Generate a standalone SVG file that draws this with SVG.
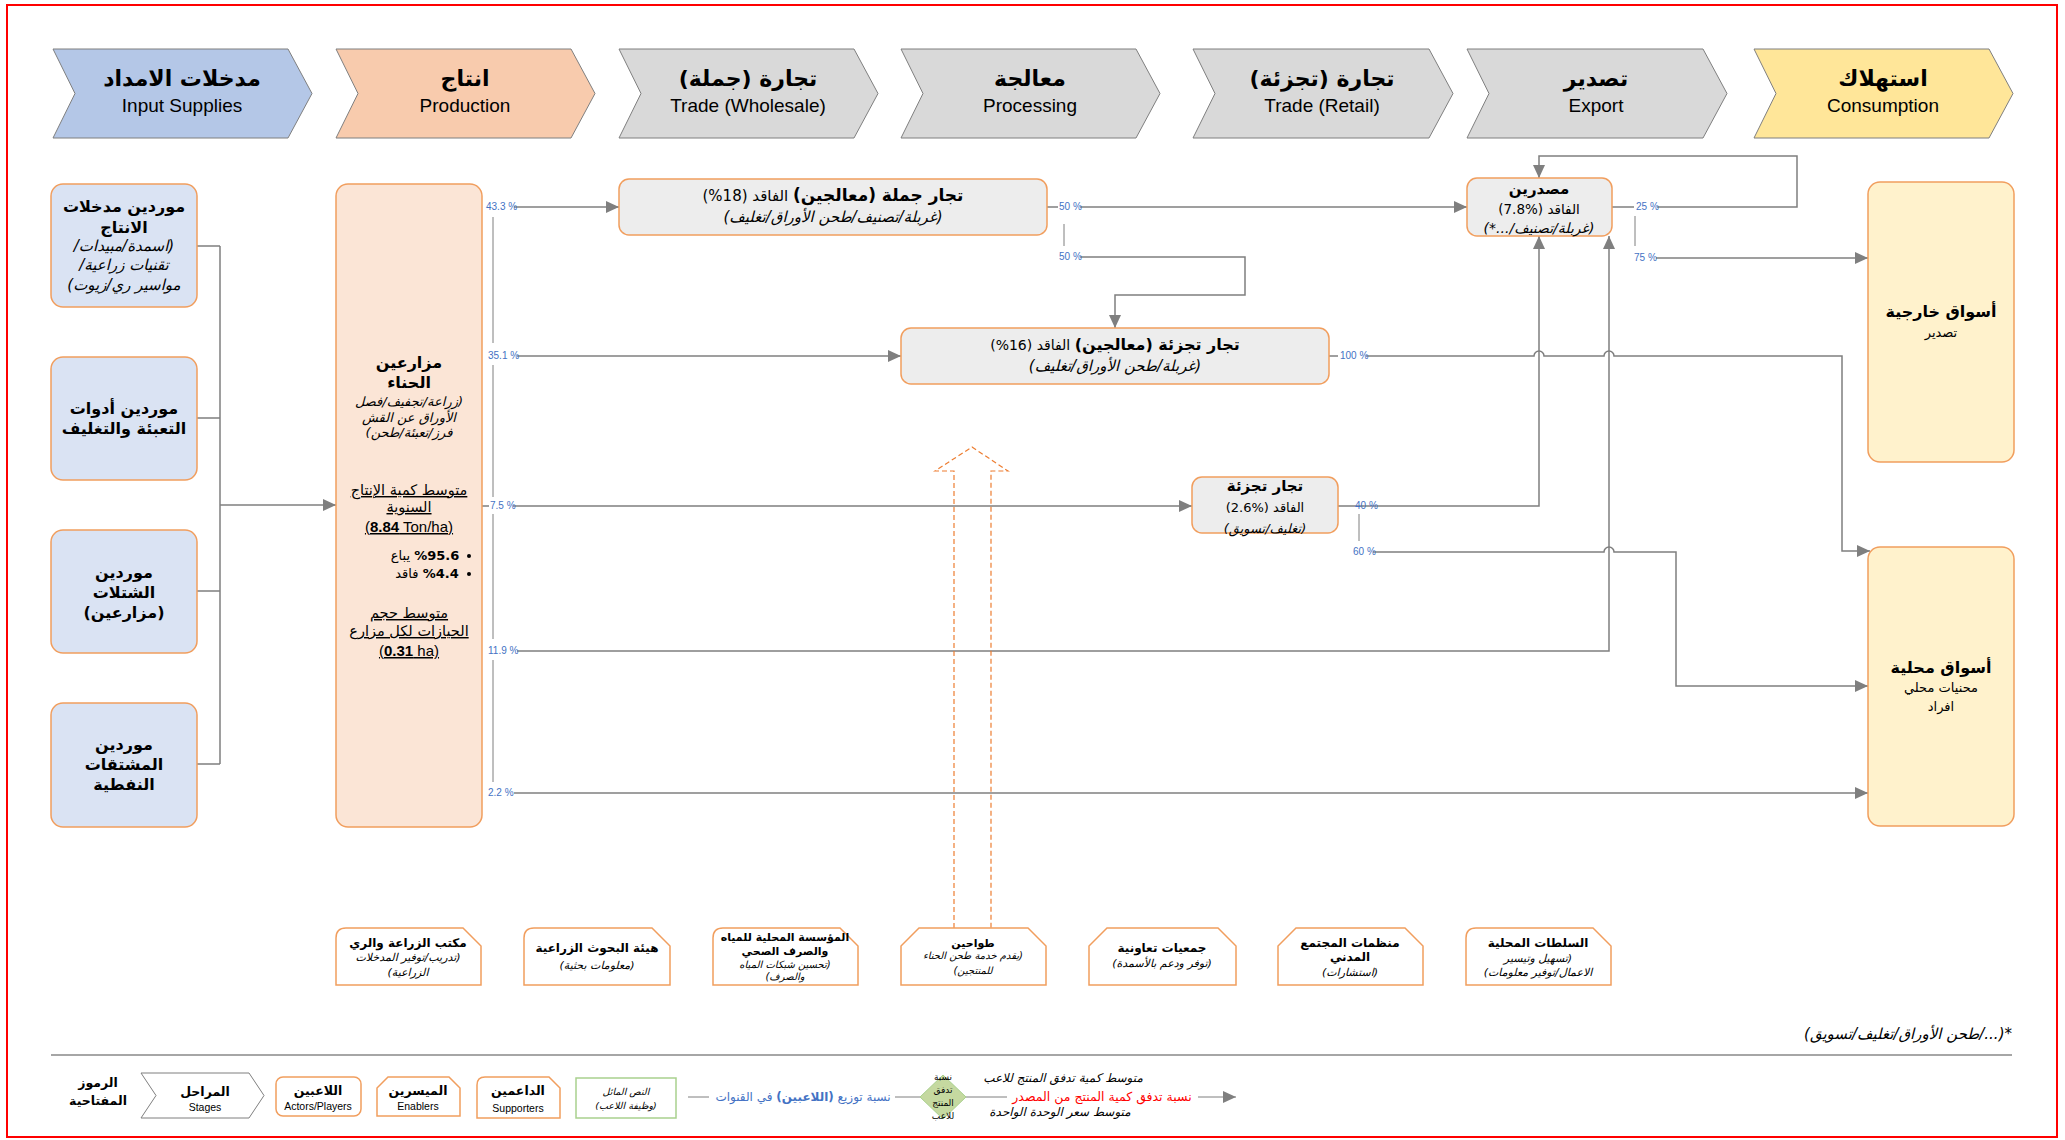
<svg xmlns="http://www.w3.org/2000/svg" width="2065" height="1140" viewBox="0 0 2065 1140">
<style>
.ar{font-family:"DejaVu Sans","Noto Sans",sans-serif;direction:rtl}
.en{font-family:"Liberation Sans",Arial,sans-serif}
.b{font-weight:bold}
.i{font-style:italic}
.stage{stroke:#7F7F7F;stroke-width:1}
.sup{fill:#DAE3F3;stroke:#F19E5E;stroke-width:1.5}
.act{fill:#EDEDED;stroke:#F19E5E;stroke-width:1.5}
.mkt{fill:#FFF2CC;stroke:#F19E5E;stroke-width:1.5}
.spt{fill:#FFFFFF;stroke:#F19E5E;stroke-width:1.5}
.pct{font-family:"Liberation Sans",Arial,sans-serif;font-size:10px;fill:#4472C4}
.fl{fill:none;stroke:#7F7F7F;stroke-width:1.5}
.thin{fill:none;stroke:#7F7F7F;stroke-width:1}
</style>
<defs>
<marker id="ah" markerUnits="userSpaceOnUse" markerWidth="14" markerHeight="12" refX="13" refY="6" orient="auto">
<path d="M0,0 L13,6 L0,12 z" fill="#7F7F7F"/>
</marker>
</defs>
<rect x="7" y="5" width="2050" height="1132" fill="#FFFFFF" stroke="#FF0000" stroke-width="2"/>

<!-- Stages -->
<g id="stage-input">
<polygon class="stage" fill="#B4C7E7" points="53,49 288,49 312,93.5 288,138 53,138 75,93.5"/>
<text class="ar b" x="182" y="86" font-size="22" text-anchor="middle">مدخلات الامداد</text>
<text class="en" x="182" y="112" font-size="19" text-anchor="middle">Input Supplies</text>
</g>
<g id="stage-production">
<polygon class="stage" fill="#F8CBAD" points="336,49 571,49 595,93.5 571,138 336,138 358,93.5"/>
<text class="ar b" x="465" y="86" font-size="22" text-anchor="middle">انتاج</text>
<text class="en" x="465" y="112" font-size="19" text-anchor="middle">Production</text>
</g>
<g id="stage-wholesale">
<polygon class="stage" fill="#D9D9D9" points="619,49 854,49 878,93.5 854,138 619,138 641,93.5"/>
<text class="ar b" x="748" y="86" font-size="22" text-anchor="middle">تجارة (جملة)</text>
<text class="en" x="748" y="112" font-size="19" text-anchor="middle">Trade (Wholesale)</text>
</g>
<g id="stage-processing">
<polygon class="stage" fill="#D9D9D9" points="901,49 1136,49 1160,93.5 1136,138 901,138 923,93.5"/>
<text class="ar b" x="1030" y="86" font-size="22" text-anchor="middle">معالجة</text>
<text class="en" x="1030" y="112" font-size="19" text-anchor="middle">Processing</text>
</g>
<g id="stage-retail">
<polygon class="stage" fill="#D9D9D9" points="1193,49 1429,49 1453,93.5 1429,138 1193,138 1215,93.5"/>
<text class="ar b" x="1322" y="86" font-size="22" text-anchor="middle">تجارة (تجزئة)</text>
<text class="en" x="1322" y="112" font-size="19" text-anchor="middle">Trade (Retail)</text>
</g>
<g id="stage-export">
<polygon class="stage" fill="#D9D9D9" points="1467,49 1703,49 1727,93.5 1703,138 1467,138 1489,93.5"/>
<text class="ar b" x="1596" y="86" font-size="22" text-anchor="middle">تصدير</text>
<text class="en" x="1596" y="112" font-size="19" text-anchor="middle">Export</text>
</g>
<g id="stage-consumption">
<polygon class="stage" fill="#FFE699" points="1754,49 1989,49 2013,93.5 1989,138 1754,138 1776,93.5"/>
<text class="ar b" x="1883" y="86" font-size="22" text-anchor="middle">استهلاك</text>
<text class="en" x="1883" y="112" font-size="19" text-anchor="middle">Consumption</text>
</g>

<!-- Connectors -->
<g id="connectors">
<path class="fl" d="M197,246 H220 M197,418 H220 M197,591 H220 M197,764 H220 M220,246 V764"/>
<path class="fl" d="M220,505 H336" marker-end="url(#ah)"/>
<path class="thin" d="M493,217 V343 M493,365 V497 M493,514 V639 M493,660 V782 M1064,224 V246 M1359,514 V541 M1635,216 V246"/>
<path class="fl" d="M514,207 H619" marker-end="url(#ah)"/>
<path class="fl" d="M517,356 H901" marker-end="url(#ah)"/>
<path class="fl" d="M482,506 H489 M513,506 H1192" marker-end="url(#ah)"/>
<path class="fl" d="M517,651 H1609 V236" marker-end="url(#ah)"/>
<path class="fl" d="M514,793 H1868" marker-end="url(#ah)"/>
<path class="fl" d="M1047,207 H1058"/>
<path class="fl" d="M1080,207 H1467" marker-end="url(#ah)"/>
<path class="fl" d="M1080,257 H1245 V295 H1115 V328" marker-end="url(#ah)"/>
<path class="fl" d="M1329,356 H1338"/>
<path class="fl" d="M1366,356 H1534 A5,5 0 0 1 1544,356 H1604 A5,5 0 0 1 1614,356 H1842 V551 H1870" marker-end="url(#ah)"/>
<path class="fl" d="M1338,506 H1539 V236" marker-end="url(#ah)"/>
<path class="fl" d="M1373,552 H1604 A5,5 0 0 1 1614,552 H1676 V686 H1868" marker-end="url(#ah)"/>
<path class="fl" d="M1612,207 H1634"/>
<path class="fl" d="M1657,207 H1797 V156 H1539 V178" marker-end="url(#ah)"/>
<path class="fl" d="M1656,258 H1868" marker-end="url(#ah)"/>
<path d="M954,928 V471 H935 L972,447 L1008,471 H991 V928" fill="none" stroke="#ED7D31" stroke-width="1.2" stroke-dasharray="5,3"/>
<text class="pct" x="486" y="210">43.3 %</text>
<text class="pct" x="488" y="359">35.1 %</text>
<text class="pct" x="490" y="509">7.5 %</text>
<text class="pct" x="488" y="654">11.9 %</text>
<text class="pct" x="488" y="796">2.2 %</text>
<text class="pct" x="1059" y="210">50 %</text>
<text class="pct" x="1059" y="260">50 %</text>
<text class="pct" x="1340" y="359">100 %</text>
<text class="pct" x="1355" y="509">40 %</text>
<text class="pct" x="1353" y="555">60 %</text>
<text class="pct" x="1636" y="210">25 %</text>
<text class="pct" x="1634" y="261">75 %</text>
</g>

<!-- Input suppliers -->
<g id="sup-inputs">
<rect class="sup" x="51" y="184" width="146" height="123" rx="12"/>
<text class="ar b" x="124" y="212" font-size="16" text-anchor="middle">موردين مدخلات</text>
<text class="ar b" x="124" y="233" font-size="16" text-anchor="middle">الانتاج</text>
<text class="ar i" x="124" y="251" font-size="15" text-anchor="middle">(اسمدة/مبيدات/</text>
<text class="ar i" x="124" y="270" font-size="15" text-anchor="middle">تقنيات زراعية/</text>
<text class="ar i" x="124" y="290" font-size="15" text-anchor="middle">مواسير ري/زيوت)</text>
</g>
<g id="sup-packaging">
<rect class="sup" x="51" y="357" width="146" height="123" rx="12"/>
<text class="ar b" x="124" y="414" font-size="16" text-anchor="middle">موردين أدوات</text>
<text class="ar b" x="124" y="434" font-size="16" text-anchor="middle">التعبئة والتغليف</text>
</g>
<g id="sup-seedlings">
<rect class="sup" x="51" y="530" width="146" height="123" rx="12"/>
<text class="ar b" x="124" y="578" font-size="16" text-anchor="middle">موردين</text>
<text class="ar b" x="124" y="598" font-size="16" text-anchor="middle">الشتلات</text>
<text class="ar b" x="124" y="618" font-size="16" text-anchor="middle">(مزارعين)</text>
</g>
<g id="sup-oil">
<rect class="sup" x="51" y="703" width="146" height="124" rx="12"/>
<text class="ar b" x="124" y="750" font-size="16" text-anchor="middle">موردين</text>
<text class="ar b" x="124" y="770" font-size="16" text-anchor="middle">المشتقات</text>
<text class="ar b" x="124" y="790" font-size="16" text-anchor="middle">النفطية</text>
</g>

<!-- Farmers -->
<g id="farmers">
<rect x="336" y="184" width="146" height="643" rx="12" fill="#FBE5D6" stroke="#F19E5E" stroke-width="1.5"/>
<text class="ar b" x="409" y="368" font-size="16" text-anchor="middle">مزارعين</text>
<text class="ar b" x="409" y="388" font-size="16" text-anchor="middle">الحناء</text>
<text class="ar i" x="409" y="406" font-size="13" text-anchor="middle">(زراعة/تجفيف/فصل</text>
<text class="ar i" x="409" y="422" font-size="13" text-anchor="middle">الأوراق عن القش</text>
<text class="ar i" x="409" y="437" font-size="13" text-anchor="middle">فرز/تعبئة/طحن)</text>
<text class="ar" x="409" y="495" font-size="14.5" text-anchor="middle" text-decoration="underline">متوسط كمية الإنتاج</text>
<text class="ar" x="409" y="512" font-size="14.5" text-anchor="middle" text-decoration="underline">السنوية</text>
<text class="en" x="409" y="532" font-size="15" text-anchor="middle" text-decoration="underline">(<tspan font-weight="bold">8.84</tspan> Ton/ha)</text>
<circle cx="469" cy="556" r="2" fill="#000"/>
<circle cx="469" cy="574" r="2" fill="#000"/>
<text class="ar" x="425" y="560" font-size="13" text-anchor="middle"><tspan font-weight="bold">%95.6</tspan> يباع</text>
<text class="ar" x="427" y="578" font-size="13" text-anchor="middle"><tspan font-weight="bold">%4.4</tspan> فاقد</text>
<text class="ar" x="409" y="618" font-size="14.5" text-anchor="middle" text-decoration="underline">متوسط حجم</text>
<text class="ar" x="409" y="636" font-size="14.5" text-anchor="middle" text-decoration="underline">الحيازات لكل مزارع</text>
<text class="en" x="409" y="656" font-size="15" text-anchor="middle" text-decoration="underline">(<tspan font-weight="bold">0.31</tspan> ha)</text>
</g>

<!-- Actors -->
<g id="wholesalers">
<rect class="act" x="619" y="179" width="428" height="56" rx="10"/>
<text class="ar" x="833" y="201" font-size="15" text-anchor="middle"><tspan font-weight="bold" font-size="17">تجار جملة (معالجين)</tspan> الفاقد (18%)</text>
<text class="ar i" x="833" y="222" font-size="15" text-anchor="middle">(غربلة/تصنيف/طحن الأوراق/تغليف)</text>
</g>
<g id="retail-processors">
<rect class="act" x="901" y="328" width="428" height="56" rx="10"/>
<text class="ar" x="1115" y="350" font-size="14" text-anchor="middle"><tspan font-weight="bold" font-size="16">تجار تجزئة (معالجين)</tspan> الفاقد (16%)</text>
<text class="ar i" x="1115" y="371" font-size="15" text-anchor="middle">(غربلة/طحن الأوراق/تغليف)</text>
</g>
<g id="retailers">
<rect class="act" x="1192" y="477" width="146" height="56" rx="10"/>
<text class="ar b" x="1265" y="491" font-size="15" text-anchor="middle">تجار تجزئة</text>
<text class="ar" x="1265" y="512" font-size="13" text-anchor="middle">الفاقد (%2.6)</text>
<text class="ar i" x="1265" y="533" font-size="13" text-anchor="middle">(تغليف/تسويق)</text>
</g>
<g id="exporters">
<rect class="act" x="1467" y="178" width="145" height="58" rx="10"/>
<text class="ar b" x="1539" y="194" font-size="15" text-anchor="middle">مصدرين</text>
<text class="ar" x="1539" y="214" font-size="13.5" text-anchor="middle">الفاقد (%7.8)</text>
<text class="ar i" x="1539" y="233" font-size="14" text-anchor="middle">(غربلة/تصنيف/...*)</text>
</g>

<!-- Markets -->
<g id="foreign-markets">
<rect class="mkt" x="1868" y="182" width="146" height="280" rx="12"/>
<text class="ar b" x="1941" y="317" font-size="16" text-anchor="middle">أسواق خارجية</text>
<text class="ar" x="1941" y="337" font-size="13" text-anchor="middle">تصدير</text>
</g>
<g id="local-markets">
<rect class="mkt" x="1868" y="547" width="146" height="279" rx="12"/>
<text class="ar b" x="1941" y="673" font-size="16" text-anchor="middle">أسواق محلية</text>
<text class="ar" x="1941" y="692" font-size="13" text-anchor="middle">محنيات محلي</text>
<text class="ar" x="1941" y="711" font-size="13" text-anchor="middle">افراد</text>
</g>

<!-- Supporters -->
<g id="agri-office">
<path class="spt" d="M336,985 V938 Q336,928 346,928 H463 L481,946 V985 Z"/>
<text class="ar b" x="408" y="947" font-size="12" text-anchor="middle">مكتب الزراعة والري</text>
<text class="ar i" x="408" y="961" font-size="11" text-anchor="middle">(تدريب/توفير المدخلات</text>
<text class="ar i" x="408" y="976" font-size="11" text-anchor="middle">الزراعية)</text>
</g>
<g id="research">
<path class="spt" d="M524,985 V938 Q524,928 534,928 H652 L670,946 V985 Z"/>
<text class="ar b" x="597" y="952" font-size="12" text-anchor="middle">هيئة البحوث الزراعية</text>
<text class="ar i" x="597" y="969" font-size="11" text-anchor="middle">(معلومات بحثية)</text>
</g>
<g id="water">
<path class="spt" d="M713,985 V938 Q713,928 723,928 H840 L858,946 V985 Z"/>
<text class="ar b" x="785" y="941" font-size="11" text-anchor="middle">المؤسسة المحلية للمياه</text>
<text class="ar b" x="785" y="955" font-size="11" text-anchor="middle">والصرف الصحي</text>
<text class="ar i" x="785" y="968" font-size="10" text-anchor="middle">(تحسين شبكات المياه</text>
<text class="ar i" x="785" y="980" font-size="10" text-anchor="middle">والصرف)</text>
</g>
<g id="mills">
<path class="spt" d="M901,985 V946 L919,928 H1028 L1046,946 V985 Z"/>
<text class="ar b" x="973" y="947" font-size="11" text-anchor="middle">طواحين</text>
<text class="ar i" x="973" y="959" font-size="10" text-anchor="middle">(يقدم خدمة طحن الحناء</text>
<text class="ar i" x="973" y="974" font-size="10" text-anchor="middle">للمنتجين)</text>
</g>
<g id="cooperatives">
<path class="spt" d="M1089,985 V946 L1107,928 H1218 L1236,946 V985 Z"/>
<text class="ar b" x="1162" y="952" font-size="12" text-anchor="middle">جمعيات تعاونية</text>
<text class="ar i" x="1162" y="967" font-size="11" text-anchor="middle">(توفر ودعم بالأسمدة)</text>
</g>
<g id="civil-society">
<path class="spt" d="M1278,985 V946 L1296,928 H1405 L1423,946 V985 Z"/>
<text class="ar b" x="1350" y="947" font-size="12" text-anchor="middle">منظمات المجتمع</text>
<text class="ar b" x="1350" y="961" font-size="12" text-anchor="middle">المدني</text>
<text class="ar i" x="1350" y="976" font-size="11" text-anchor="middle">(استشارات)</text>
</g>
<g id="local-authorities">
<path class="spt" d="M1466,985 V938 Q1466,928 1476,928 H1593 L1611,946 V985 Z"/>
<text class="ar b" x="1538" y="947" font-size="12" text-anchor="middle">السلطات المحلية</text>
<text class="ar i" x="1538" y="962" font-size="11" text-anchor="middle">(تسهيل وتيسير</text>
<text class="ar i" x="1538" y="976" font-size="11" text-anchor="middle">الاعمال/توفير معلومات)</text>
</g>

<text class="ar i" x="2012" y="1039" font-size="15" text-anchor="start">*(.../طحن الأوراق/تغليف/تسويق)</text>
<line x1="51" y1="1055" x2="2012" y2="1055" stroke="#A6A6A6" stroke-width="2"/>

<!-- Legend -->
<g id="legend">
<text class="ar b" x="98" y="1087" font-size="12.5" text-anchor="middle">الرموز</text>
<text class="ar b" x="98" y="1105" font-size="12.5" text-anchor="middle">المفتاحية</text>
<polygon points="141,1073 249,1073 264,1095.5 249,1118 141,1118 156,1095.5" fill="#FFFFFF" stroke="#7F7F7F" stroke-width="1"/>
<text class="ar b" x="205" y="1096" font-size="12.5" text-anchor="middle">المراحل</text>
<text class="en" x="205" y="1111" font-size="10.5" text-anchor="middle">Stages</text>
<rect x="276" y="1077" width="85" height="39" rx="7" fill="#FFFFFF" stroke="#F19E5E" stroke-width="1.5"/>
<text class="ar b" x="318" y="1095" font-size="12.5" text-anchor="middle">اللاعبين</text>
<text class="en" x="318" y="1110" font-size="10.5" text-anchor="middle">Actors/Players</text>
<path class="spt" d="M377,1116 V1088 L388,1077 H449 L460,1088 V1116 Z"/>
<text class="ar b" x="418" y="1095" font-size="12.5" text-anchor="middle">الميسرين</text>
<text class="en" x="418" y="1110" font-size="10.5" text-anchor="middle">Enablers</text>
<path class="spt" d="M477,1118 V1085 Q477,1077 485,1077 H549 L560,1088 V1118 Z"/>
<text class="ar b" x="518" y="1095" font-size="12.5" text-anchor="middle">الداعمين</text>
<text class="en" x="518" y="1112" font-size="10.5" text-anchor="middle">Supporters</text>
<rect x="576" y="1078" width="100" height="40" fill="#FFFFFF" stroke="#A9D18E" stroke-width="1.5"/>
<text class="ar i" x="626" y="1095" font-size="9.5" text-anchor="middle">النص المائل</text>
<text class="ar i" x="626" y="1109" font-size="9.5" text-anchor="middle">(وظيفة اللاعب)</text>
<path class="thin" d="M688,1097 H709 M895,1097 H920 M966,1097 H1007"/>
<text class="ar" x="803" y="1101" font-size="12" fill="#4472C4" text-anchor="middle">نسبة توزيع <tspan font-weight="bold">(اللاعبين)</tspan> في القنوات</text>
<polygon points="943,1075 966,1097 943,1119 920,1097" fill="#C5D9A0" stroke="#A9D18E" stroke-width="1"/>
<text class="ar" x="943" y="1080" font-size="9" text-anchor="middle">نسبة</text>
<text class="ar" x="943" y="1093" font-size="9" text-anchor="middle">تدفق</text>
<text class="ar" x="943" y="1106" font-size="9" text-anchor="middle">المنتج</text>
<text class="ar" x="943" y="1119" font-size="9" text-anchor="middle">للاعب</text>
<text class="ar i" x="1063" y="1082" font-size="12" text-anchor="middle">متوسط كمية تدفق المنتج للاعب</text>
<text class="ar" x="1102" y="1101" font-size="12.5" fill="#FF0000" text-anchor="middle">نسبة تدفق كمية المنتج من المصدر</text>
<text class="ar i" x="1060" y="1116" font-size="12" text-anchor="middle">متوسط سعر الوحدة الواحدة</text>
<path class="thin" d="M1198,1097 H1236" marker-end="url(#ah)"/>
</g>
</svg>
